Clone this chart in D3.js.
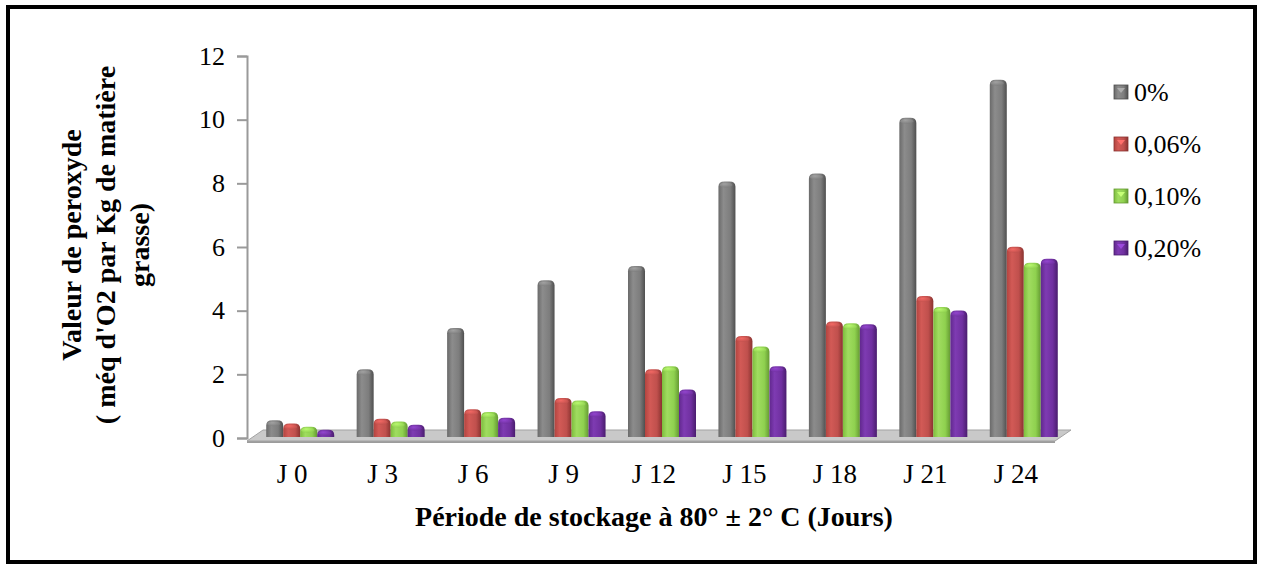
<!DOCTYPE html>
<html>
<head>
<meta charset="utf-8">
<script src="https://cdn.jsdelivr.net/npm/d3@7"></script>
<style>
  body { margin: 0; background: #fff; }
  svg text { font-family: "Times New Roman", "Liberation Serif", Times, "DejaVu Serif", serif; }
</style>
</head>
<body>
<svg id="chart" width="1261" height="565"></svg>
<script>
// data
const days = ['J 0', 'J 3', 'J 6', 'J 9', 'J 12', 'J 15', 'J 18', 'J 21', 'J 24'];
const series = ['0%', '0,06%', '0,10%', '0,20%'];
const v0 = [0.4, 2.0, 3.3, 4.8, 5.25, 7.9, 8.15, 9.9, 11.1];
const v006 = [0.3, 0.45, 0.75, 1.1, 2.0, 3.05, 3.5, 4.3, 5.85];
const v010 = [0.2, 0.36, 0.66, 1.02, 2.1, 2.72, 3.45, 3.96, 5.35];
const v020 = [0.1, 0.26, 0.48, 0.68, 1.37, 2.1, 3.42, 3.85, 5.47];
const yTicks = [0, 2, 4, 6, 8, 10, 12];

const values = [v0, v006, v010, v020];
const shades = [
  ['#6a6a6a', '#8c8c8c', '#7d7d7d', '#4f4f4f'],
  ['#b3443f', '#d25a56', '#c0504d', '#8a3330'],
  ['#7dbd3d', '#a0dc60', '#8fd14f', '#659a33'],
  ['#61288e', '#7e3bb2', '#7030a0', '#4a1d6e']
];

const serif = '"Times New Roman", "Liberation Serif", Times, serif';
const svg = d3.select('#chart');
const plotLeft = 247, plotRight = 1061, plotTop = 56, plotBottom = 438;
const depthY = 5;

// outer frame
svg.append('rect')
  .attr('x', 8).attr('y', 7).attr('width', 1247).attr('height', 555)
  .attr('fill', 'none').attr('stroke', '#000').attr('stroke-width', 4);

const y = d3.scaleLinear().domain([0, 12]).range([plotBottom, plotTop]);
const x0 = d3.scaleBand().domain(days).range([plotLeft, plotRight]);
const x1 = d3.scaleBand().domain(series).range([0, 68]);

// gradients
const defs = svg.append('defs');
shades.forEach((c, i) => {
  const g = defs.append('linearGradient').attr('id', 'bar' + i)
    .attr('x1', 0).attr('x2', 1).attr('y1', 0).attr('y2', 0);
  g.append('stop').attr('offset', '0%').attr('stop-color', c[0]);
  g.append('stop').attr('offset', '30%').attr('stop-color', c[1]);
  g.append('stop').attr('offset', '70%').attr('stop-color', c[2]);
  g.append('stop').attr('offset', '100%').attr('stop-color', c[3]);
  const r = defs.append('radialGradient').attr('id', 'cap' + i)
    .attr('cx', '40%').attr('cy', '30%').attr('r', '70%');
  r.append('stop').attr('offset', '0%').attr('stop-color', d3.color(c[1]).brighter(0.5));
  r.append('stop').attr('offset', '100%').attr('stop-color', c[2]);
});

// floor plate
const fl = plotLeft, fr = plotRight - 6;
svg.append('polygon')
  .attr('points', [[fl, plotBottom + 3], [fr, plotBottom + 3], [fr, plotBottom + 5], [fl, plotBottom + 5]].join(' '))
  .attr('fill', '#9c9c9c');
svg.append('polygon')
  .attr('points', [[fl, plotBottom + 3], [fr, plotBottom + 3], [fr + 16, plotBottom - 8], [fl + 16, plotBottom - 8]].join(' '))
  .attr('fill', '#c9c9c9').attr('stroke', '#a3a3a3').attr('stroke-width', 1);

// y axis
const yAxis = svg.append('g')
  .attr('transform', `translate(${plotLeft},0)`)
  .call(d3.axisLeft(y).tickValues(yTicks).tickSize(10).tickPadding(12).tickFormat(d3.format('d')));
yAxis.attr('font-family', serif);
yAxis.select('.domain').attr('stroke', '#9a9a9a').attr('stroke-width', 2);
yAxis.selectAll('.tick line').attr('stroke', '#9a9a9a').attr('stroke-width', 2);
yAxis.selectAll('.tick text').attr('font-size', 26).attr('fill', '#000');

// bars
const barW = x1.bandwidth();
const shift = (x0.bandwidth() - 68) / 2 + 8;
series.forEach((s, si) => {
  const g = svg.append('g');
  days.forEach((d, di) => {
    const v = values[si][di];
    const bx = x0(d) + shift + x1(s);
    const ty = y(v) - depthY;
    const by = plotBottom - 1;
    const ry = 3.5;
    const h = Math.max(by - ty, ry * 2);
    const r = Math.min(barW / 2, 6);
    const path = d3.path();
    path.moveTo(bx, by);
    path.lineTo(bx, by - h + ry * 1.5);
    path.quadraticCurveTo(bx, by - h, bx + r, by - h);
    path.lineTo(bx + barW - r, by - h);
    path.quadraticCurveTo(bx + barW, by - h, bx + barW, by - h + ry * 1.5);
    path.lineTo(bx + barW, by);
    path.closePath();
    g.append('path').attr('d', path.toString()).attr('fill', `url(#bar${si})`);
    g.append('ellipse')
      .attr('cx', bx + barW / 2 - 1).attr('cy', by - h + ry)
      .attr('rx', barW / 2 - 2).attr('ry', ry - 1)
      .attr('fill', `url(#cap${si})`).attr('opacity', 0.8);
  });
});

// category labels
svg.append('g').selectAll('text').data(days).join('text')
  .attr('x', d => x0(d) + x0.bandwidth() / 2)
  .attr('y', 483)
  .attr('text-anchor', 'middle')
  .attr('font-family', serif)
  .attr('font-size', 27)
  .text(d => d);

// axis titles
svg.append('text')
  .attr('x', 654).attr('y', 526)
  .attr('text-anchor', 'middle')
  .attr('font-family', serif)
  .attr('font-size', 28).attr('font-weight', 'bold')
  .text('Période de stockage à 80° ± 2° C (Jours)');

const yTitle = ['Valeur de peroxyde', "( méq d'O2 par Kg de matière", 'grasse)'];
svg.append('g')
  .attr('transform', 'translate(81,245) rotate(-90)')
  .selectAll('text').data(yTitle).join('text')
  .attr('x', 0).attr('y', (d, i) => i * 34)
  .attr('text-anchor', 'middle')
  .attr('font-family', serif)
  .attr('font-size', 28).attr('font-weight', 'bold')
  .text(d => d);

// legend
const legend = svg.append('g').selectAll('g').data(series).join('g')
  .attr('transform', (d, i) => `translate(1114,${92 + i * 52})`);
legend.append('rect')
  .attr('x', 0).attr('y', -7).attr('width', 14).attr('height', 14)
  .attr('fill', (d, i) => `url(#bar${i})`)
  .attr('stroke', (d, i) => shades[i][3]).attr('stroke-width', 0.8);
legend.append('path')
  .attr('d', 'M3,-4 L11,-4 L7,1 Z')
  .attr('fill', (d, i) => d3.color(shades[i][1]).brighter(0.6));
legend.append('text')
  .attr('x', 20).attr('y', 0)
  .attr('dy', '0.35em')
  .attr('font-family', serif)
  .attr('font-size', 26)
  .text(d => d);
</script>
</body>
</html>
